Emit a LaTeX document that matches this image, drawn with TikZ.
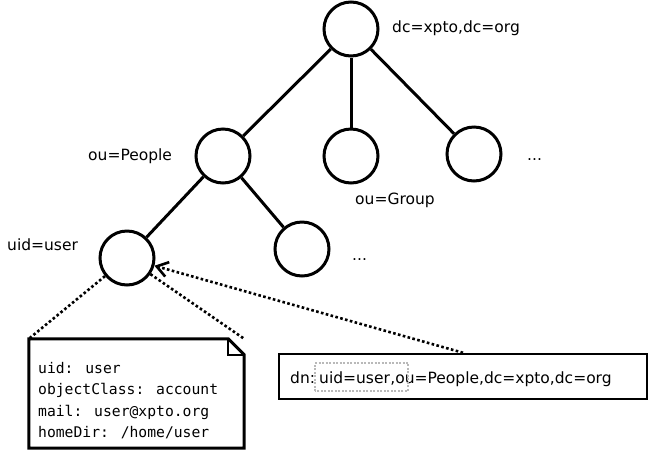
\documentclass[tikz,border=0pt]{standalone}
\usepackage{fontspec}
\setmainfont{DejaVu Sans}
\newfontfamily\attrfont{DejaVu Sans Mono}
\usetikzlibrary{arrows.meta}

\begin{document}
\begin{tikzpicture}[x=1pt,y=-1pt,
    entry/.style={circle,draw,line width=3pt,minimum size=54pt,inner sep=0pt},
    edge/.style={line width=3pt},
    link/.style={line width=2.6pt,dash pattern=on 2.6pt off 2.4pt},
    txt/.style={anchor=base west,inner sep=0pt,font=\fontsize{15.5}{18}\selectfont}]
\useasboundingbox (0,0) rectangle (650,451);
% tree entries
\node [entry] (root) at (351,29) {};
\node [entry] (people) at (223,156) {};
\node [entry] (group) at (351,156) {};
\node [entry] (more) at (474,154) {};
\node [entry] (user) at (127,258) {};
\node [entry] (others) at (302,249) {};
\draw[edge] (root) -- (people);
\draw[edge] (root) -- (group);
\draw[edge] (root) -- (more);
\draw[edge] (people) -- (user);
\draw[edge] (people) -- (others);
% labels
\node [txt] (rootlbl) at (392,32) {dc=xpto,dc=org};
\node [txt] (peoplelbl) at (88,160) {ou=People};
\node [txt] (grouplbl) at (355,204) {ou=Group};
\node [txt] (morelbl) at (527,160) {...};
\node [txt] (userlbl) at (7,250) {uid=user};
\node [txt] (otherslbl) at (352,260) {...};
% entry attributes
\node [minimum width=215pt,minimum height=109pt] (note) at (136.5,393.5) {};
\draw[line width=3pt,line join=miter] (note.north west) -- ([xshift=-16pt]note.north east)
    -- ([yshift=-16pt]note.north east) -- (note.south east) -- (note.south west) -- cycle;
\draw[line width=1.5pt] ([xshift=-16pt]note.north east) |- ([yshift=-16pt]note.north east);
\node [anchor=north west,inner sep=0pt,align=left,font=\attrfont\fontsize{14.7}{21.5}\selectfont]
    (attrs) at (38,362) {uid: user\\objectClass: account\\mail: user@xpto.org\\homeDir: /home/user};
% distinguished name
\node [draw,line width=2.5pt,minimum width=368pt,minimum height=45pt] (dn) at (463,376.5) {};
\node [txt] (dnkey) at (290,383) {dn:};
\node [txt] (dnuid) at (319,383) {uid=user};
\node [txt] (dnrest) at (dnuid.base east) {,ou=People,dc=xpto,dc=org};
\draw[gray!55,line width=2pt,dash pattern=on 2pt off 1.5pt]
    ([shift={(-4pt,-8pt)}]dnuid.base west) rectangle ([shift={(18pt,20pt)}]dnuid.base east);
% dotted links
\draw[link] (user) -- (note.north west);
\draw[link] (user) -- (note.north east);
\draw[link,-{Straight Barb[length=11pt,width=15pt,line width=2.6pt]}] (dn.north) -- (user);
\end{tikzpicture}
\end{document}
